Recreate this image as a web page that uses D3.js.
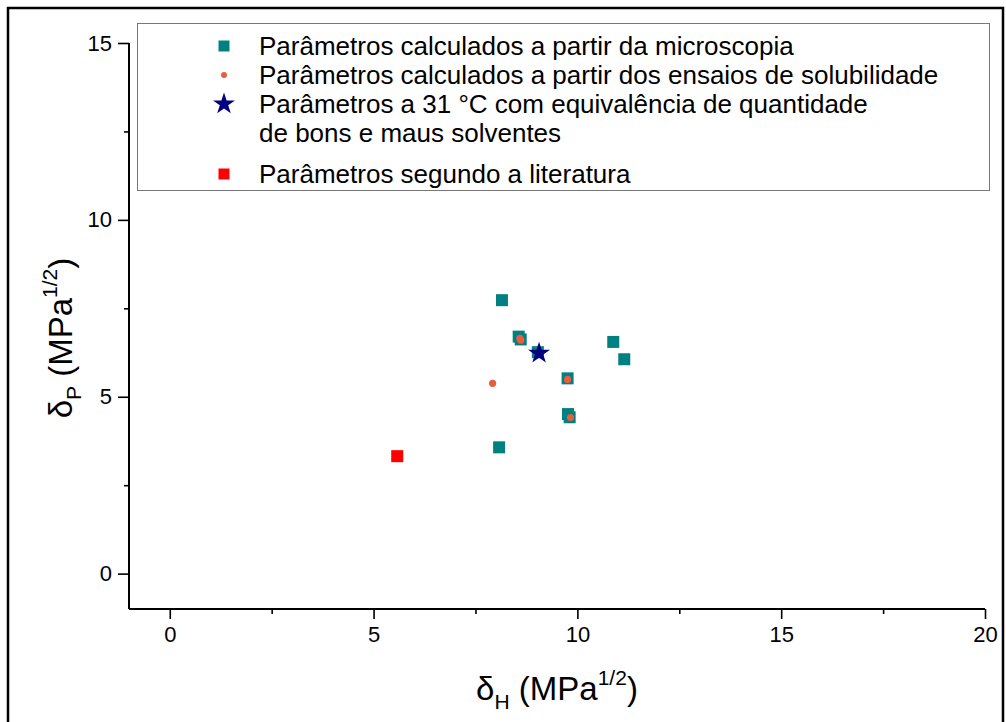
<!DOCTYPE html>
<html>
<head>
<meta charset="utf-8">
<script src="https://cdn.jsdelivr.net/npm/d3@7"></script>
<style>
  html, body { margin: 0; padding: 0; background: #fff; }
  svg { display: block; font-family: "Liberation Sans", Arial, sans-serif; }
</style>
</head>
<body>
<svg id="chart" width="1006" height="722"></svg>
<script>
// δH / δP pairs (MPa^1/2) for each series
const microH = [8.15, 8.56, 8.61, 9.03, 10.88, 11.15, 9.76, 9.77, 9.81, 8.08];
const microP = [7.73, 6.70, 6.62, 6.26, 6.55, 6.06, 5.52, 4.51, 4.42, 3.57];
const solubH = [8.59, 8.61, 7.92, 9.76, 9.83];
const solubP = [6.65, 6.60, 5.38, 5.49, 4.41];
const equivH = [9.06];
const equivP = [6.23];
const litH = [5.58];
const litP = [3.32];

const xMajor = [0, 5, 10, 15, 20];
const xMinor = [2.5, 7.5, 12.5, 17.5];
const yMajor = [0, 5, 10, 15];
const yMinor = [2.5, 7.5, 12.5];

const legendLines = [
  "Parâmetros calculados a partir da microscopia",
  "Parâmetros calculados a partir dos ensaios de solubilidade",
  "Parâmetros a 31 °C com equivalência de quantidade",
  "de bons e maus solventes",
  "Parâmetros segundo a literatura"
];

const svg = d3.select("#chart");

// outer frame
svg.append("rect")
  .attr("x", 8).attr("y", 8).attr("width", 995).attr("height", 730)
  .attr("fill", "none").attr("stroke", "#000").attr("stroke-width", 2.5);

const x = d3.scaleLinear().domain([-1, 20]).range([129, 985]);
const y = d3.scaleLinear().domain([-1, 15]).range([609, 43]);

const colTeal = "#008080", colOrange = "#E95C3C", colNavy = "#000080", colRed = "#FF0000";

// axes
const xAxis = svg.append("g").attr("transform", `translate(0,${y(-1)})`)
  .call(d3.axisBottom(x).tickValues(xMajor).tickSize(10).tickPadding(7).tickFormat(d3.format("d")));
svg.append("g").attr("transform", `translate(0,${y(-1)})`)
  .call(d3.axisBottom(x).tickValues(xMinor).tickSize(5).tickFormat(""))
  .select(".domain").remove();

const yAxis = svg.append("g").attr("transform", `translate(${x(-1)},0)`)
  .call(d3.axisLeft(y).tickValues(yMajor).tickSize(11).tickPadding(6).tickFormat(d3.format("d")));
svg.append("g").attr("transform", `translate(${x(-1)},0)`)
  .call(d3.axisLeft(y).tickValues(yMinor).tickSize(5).tickFormat(""))
  .select(".domain").remove();

svg.selectAll(".domain").attr("stroke-width", 2);
svg.selectAll(".tick line").attr("stroke-width", 1.6);
svg.selectAll(".tick text").attr("font-size", 22).attr("fill", "#000");
// axis domain without end caps
xAxis.select(".domain").attr("d", `M${x(-1)},0H${x(20)}`);
yAxis.select(".domain").attr("d", `M0,${y(15)}V${y(-1)}`);

// axis titles
const xt = svg.append("text").attr("x", 557).attr("y", 700).attr("text-anchor", "middle")
  .attr("font-size", 33).attr("fill", "#000");
xt.append("tspan").text("δ");
xt.append("tspan").attr("font-size", 21).attr("dy", 9).text("H");
xt.append("tspan").attr("dy", -9).text(" (MPa");
xt.append("tspan").attr("font-size", 21).attr("dy", -15).text("1/2");
xt.append("tspan").attr("dy", 15).text(")");

const yt = svg.append("text").attr("transform", "translate(72,338) rotate(-90)")
  .attr("text-anchor", "middle").attr("font-size", 33).attr("fill", "#000");
yt.append("tspan").text("δ");
yt.append("tspan").attr("font-size", 21).attr("dy", 9).text("P");
yt.append("tspan").attr("dy", -9).text(" (MPa");
yt.append("tspan").attr("font-size", 21).attr("dy", -15).text("1/2");
yt.append("tspan").attr("dy", 15).text(")");

// data marks
const sq = 12;
svg.append("g").selectAll("rect").data(microH.map((h, i) => [h, microP[i]])).join("rect")
  .attr("x", d => x(d[0]) - sq / 2).attr("y", d => y(d[1]) - sq / 2)
  .attr("width", sq).attr("height", sq).attr("fill", colTeal);

svg.append("g").selectAll("circle").data(solubH.map((h, i) => [h, solubP[i]])).join("circle")
  .attr("cx", d => x(d[0])).attr("cy", d => y(d[1])).attr("r", 3.6).attr("fill", colOrange);

const star = d3.symbol().type(d3.symbolStar).size(150);
svg.append("g").selectAll("path").data(equivH.map((h, i) => [h, equivP[i]])).join("path")
  .attr("transform", d => `translate(${x(d[0])},${y(d[1])})`).attr("d", star).attr("fill", colNavy);

svg.append("g").selectAll("rect").data(litH.map((h, i) => [h, litP[i]])).join("rect")
  .attr("x", d => x(d[0]) - sq / 2).attr("y", d => y(d[1]) - sq / 2)
  .attr("width", sq).attr("height", sq).attr("fill", colRed);

// legend
const lg = svg.append("g");
lg.append("rect").attr("x", 137.5).attr("y", 23.5).attr("width", 852).attr("height", 167)
  .attr("fill", "#fff").attr("stroke", "#777").attr("stroke-width", 1);
const rowY = [46, 75, 104, 133, 174];
const symX = 224;
lg.append("rect").attr("x", symX - 5.5).attr("y", rowY[0] - 5.5).attr("width", 11).attr("height", 11).attr("fill", colTeal);
lg.append("circle").attr("cx", symX).attr("cy", rowY[1]).attr("r", 3).attr("fill", colOrange);
lg.append("path").attr("transform", `translate(${symX},${rowY[2]})`).attr("d", star).attr("fill", colNavy);
lg.append("rect").attr("x", symX - 5.5).attr("y", rowY[4] - 5.5).attr("width", 11).attr("height", 11).attr("fill", colRed);
lg.selectAll("text.lab").data(legendLines).join("text").attr("class", "lab")
  .attr("x", 259).attr("y", (d, i) => rowY[i] + 9).attr("font-size", 26).attr("fill", "#000")
  .text(d => d);
</script>
</body>
</html>
